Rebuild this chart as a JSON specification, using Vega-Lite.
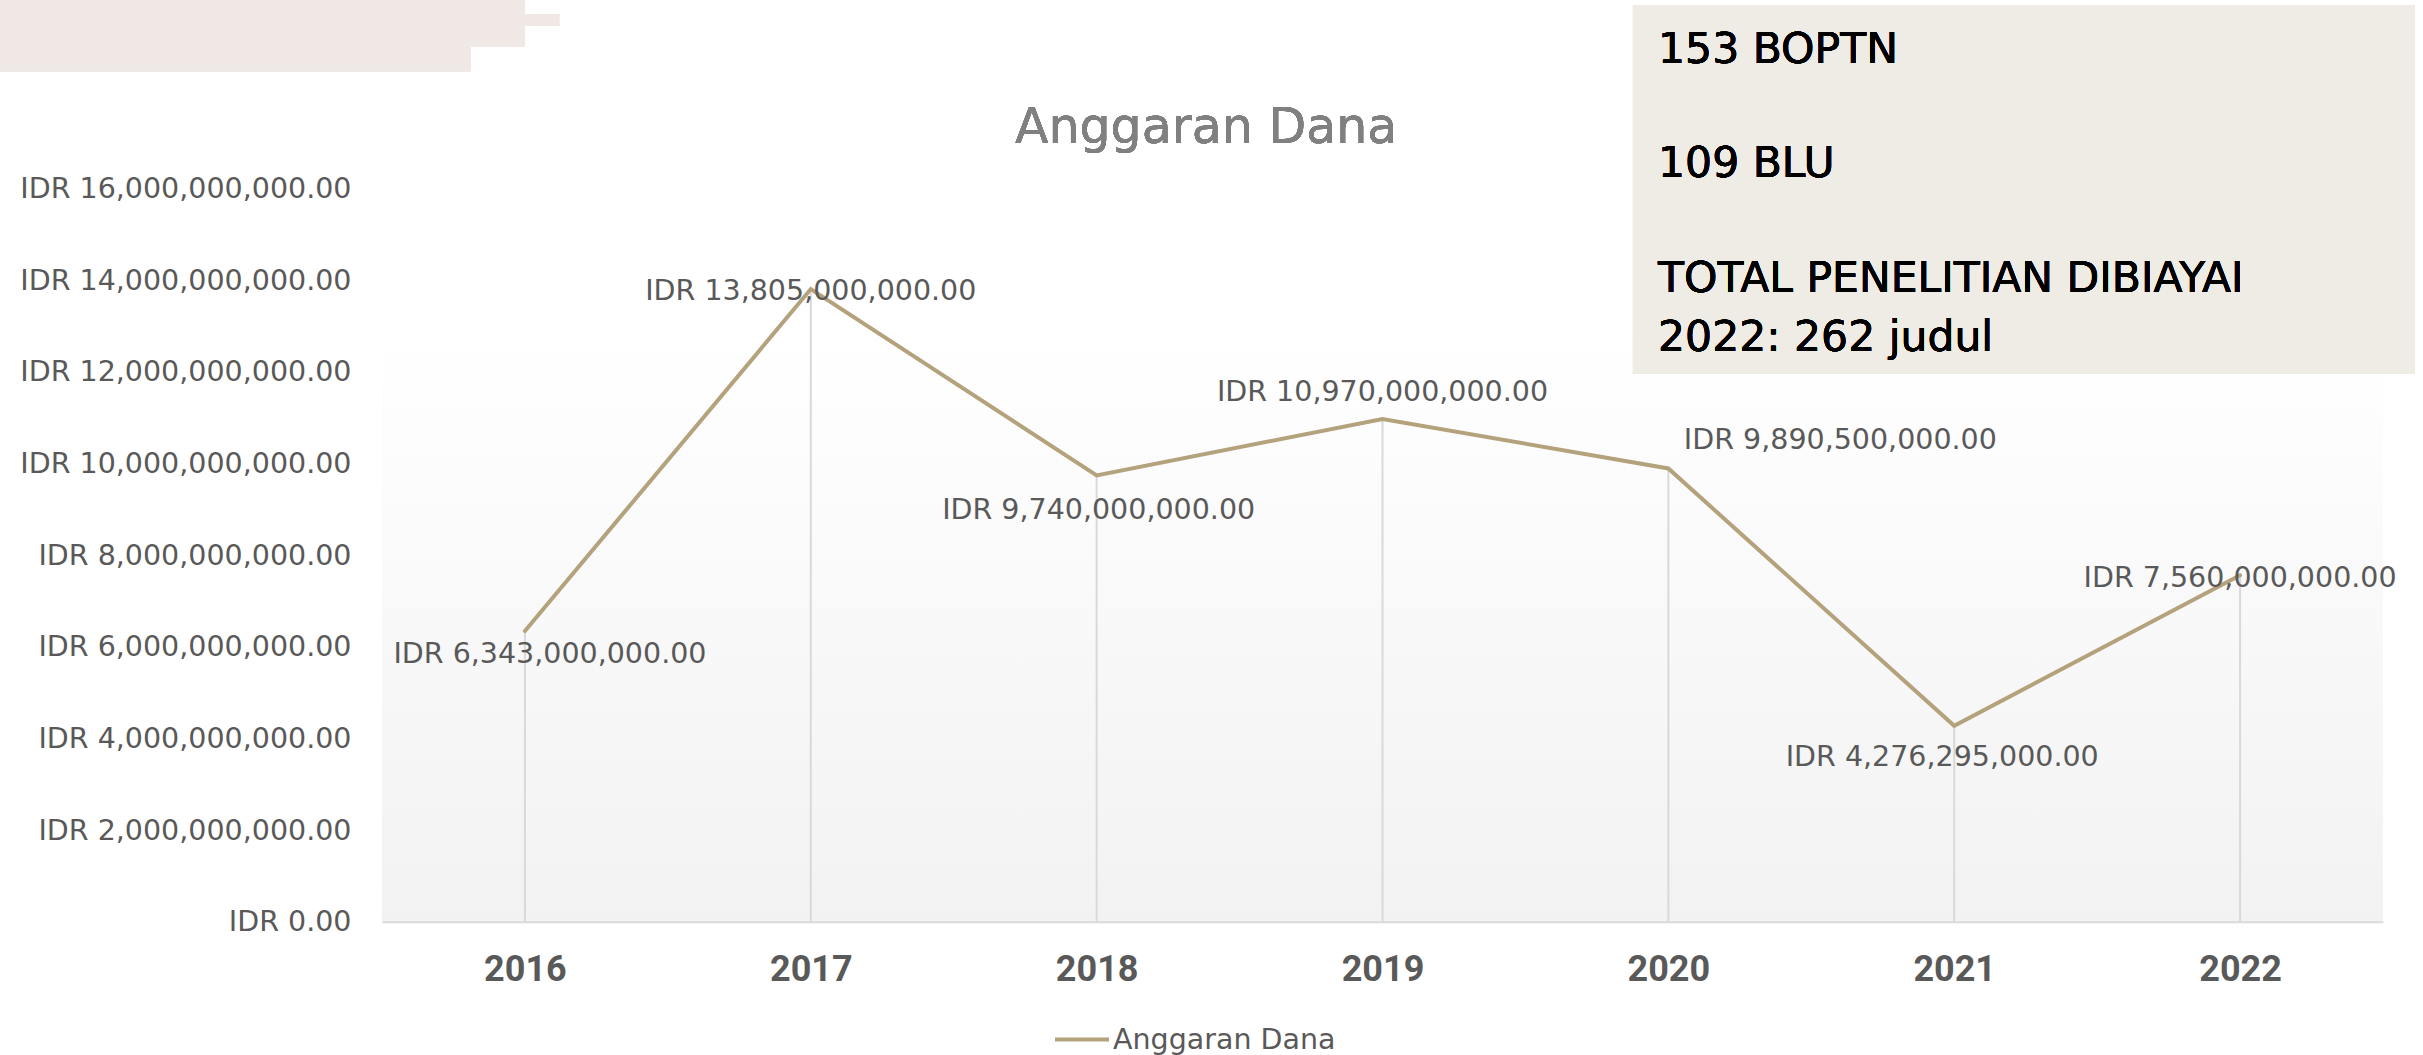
{
  "$schema": "https://vega.github.io/schema/vega-lite/v6.json",
  "width": 2001,
  "height": 733.2,
  "autosize": {"type": "none"},
  "padding": {"left": 382, "top": 188.5, "right": 40, "bottom": 133.3},
  "background": "#ffffff",
  "config": {
    "locale": {
      "number": {"decimal": ".", "thousands": ",", "grouping": [3], "currency": ["IDR ", ""]}
    },
    "view": {
      "stroke": null,
      "fill": {
        "gradient": "linear",
        "x1": 0, "y1": 0, "x2": 0, "y2": 1,
        "stops": [
          {"offset": 0, "color": "#ffffff"},
          {"offset": 0.2, "color": "#ffffff"},
          {"offset": 1, "color": "#f2f2f2"}
        ]
      }
    },
    "text": {"font": "DejaVu Sans", "fontSize": 28.5, "color": "#595959"}
  },
  "data": {
    "values": [
      {"year": 2016, "value": 6343000000},
      {"year": 2017, "value": 13805000000},
      {"year": 2018, "value": 9740000000},
      {"year": 2019, "value": 10970000000},
      {"year": 2020, "value": 9890500000},
      {"year": 2021, "value": 4276295000},
      {"year": 2022, "value": 7560000000}
    ]
  },
  "layer": [
    {
      "mark": {"type": "rect", "color": "#f0e8e5"},
      "encoding": {
        "x": {"datum": 2014.16, "type": "quantitative"},
        "x2": {"datum": 2015.81},
        "y": {"datum": 20113000000, "type": "quantitative"},
        "y2": {"datum": 18560000000}
      }
    },
    {
      "mark": {"type": "rect", "color": "#f0e8e5"},
      "encoding": {
        "x": {"datum": 2014.16, "type": "quantitative"},
        "x2": {"datum": 2016.0},
        "y": {"datum": 20113000000, "type": "quantitative"},
        "y2": {"datum": 19100000000}
      }
    },
    {
      "mark": {"type": "rect", "color": "#f0e8e5"},
      "encoding": {
        "x": {"datum": 2014.16, "type": "quantitative"},
        "x2": {"datum": 2016.12},
        "y": {"datum": 19800000000, "type": "quantitative"},
        "y2": {"datum": 19550000000}
      }
    },
    {
      "mark": {
        "type": "text",
        "align": "center",
        "baseline": "alphabetic",
        "font": "DejaVu Sans",
        "fontSize": 49,
        "color": "#808080",
        "text": "Anggaran Dana"
      },
      "encoding": {
        "x": {"datum": 2018.383, "type": "quantitative"},
        "y": {"datum": 16993000000, "type": "quantitative"}
      }
    },
    {
      "mark": {"type": "rule", "color": "#d9d9d9", "strokeWidth": 2},
      "encoding": {
        "x": {
          "field": "year", "type": "quantitative",
          "scale": {"domain": [2015.5, 2022.5], "nice": false, "zero": false},
          "axis": {
            "values": [2016, 2017, 2018, 2019, 2020, 2021, 2022],
            "format": "d",
            "title": null,
            "grid": false,
            "ticks": false,
            "domainColor": "#d9d9d9",
            "domainWidth": 2,
            "labelFont": "Roboto",
            "labelFontWeight": "bold",
            "labelFontSize": 36,
            "labelColor": "#595959",
            "labelPadding": 31
          }
        },
        "y": {
          "field": "value", "type": "quantitative",
          "scale": {"domain": [0, 16000000000], "nice": false},
          "axis": {
            "values": [0, 2000000000, 4000000000, 6000000000, 8000000000, 10000000000, 12000000000, 14000000000, 16000000000],
            "format": "$,.2f",
            "title": null,
            "grid": false,
            "ticks": false,
            "domain": false,
            "labelFont": "DejaVu Sans",
            "labelFontSize": 28.5,
            "labelColor": "#595959",
            "labelPadding": 31,
            "labelLimit": 0
          }
        },
        "y2": {"datum": 0}
      }
    },
    {
      "mark": {"type": "line", "strokeWidth": 4, "strokeCap": "round"},
      "encoding": {
        "x": {"field": "year", "type": "quantitative"},
        "y": {"field": "value", "type": "quantitative"},
        "color": {
          "datum": "Anggaran Dana",
          "type": "nominal",
          "scale": {"range": ["#b4a27c"]},
          "legend": {
            "orient": "none",
            "legendX": 671,
            "legendY": 822,
            "title": null,
            "padding": 0,
            "symbolType": "stroke",
            "symbolSize": 2916,
            "symbolStrokeWidth": 4,
            "labelFont": "DejaVu Sans",
            "labelFontSize": 28.5,
            "labelColor": "#595959",
            "labelOffset": 2,
            "labelLimit": 0
          }
        }
      }
    },
    {
      "transform": [{"filter": "datum.year == 2016"}],
      "mark": {"type": "text", "dx": 25, "dy": 23, "baseline": "middle"},
      "encoding": {
        "x": {"field": "year", "type": "quantitative"},
        "y": {"field": "value", "type": "quantitative"},
        "text": {"field": "value", "type": "quantitative", "format": "$,.2f"}
      }
    },
    {
      "transform": [{"filter": "datum.year == 2017"}],
      "mark": {"type": "text", "dx": 0, "dy": 2, "baseline": "middle"},
      "encoding": {
        "x": {"field": "year", "type": "quantitative"},
        "y": {"field": "value", "type": "quantitative"},
        "text": {"field": "value", "type": "quantitative", "format": "$,.2f"}
      }
    },
    {
      "transform": [{"filter": "datum.year == 2018"}],
      "mark": {"type": "text", "dx": 2, "dy": 35, "baseline": "middle"},
      "encoding": {
        "x": {"field": "year", "type": "quantitative"},
        "y": {"field": "value", "type": "quantitative"},
        "text": {"field": "value", "type": "quantitative", "format": "$,.2f"}
      }
    },
    {
      "transform": [{"filter": "datum.year == 2019"}],
      "mark": {"type": "text", "dx": 0, "dy": -26.5, "baseline": "middle"},
      "encoding": {
        "x": {"field": "year", "type": "quantitative"},
        "y": {"field": "value", "type": "quantitative"},
        "text": {"field": "value", "type": "quantitative", "format": "$,.2f"}
      }
    },
    {
      "transform": [{"filter": "datum.year == 2020"}],
      "mark": {"type": "text", "dx": 172, "dy": -28, "baseline": "middle"},
      "encoding": {
        "x": {"field": "year", "type": "quantitative"},
        "y": {"field": "value", "type": "quantitative"},
        "text": {"field": "value", "type": "quantitative", "format": "$,.2f"}
      }
    },
    {
      "transform": [{"filter": "datum.year == 2021"}],
      "mark": {"type": "text", "dx": -12, "dy": 31, "baseline": "middle"},
      "encoding": {
        "x": {"field": "year", "type": "quantitative"},
        "y": {"field": "value", "type": "quantitative"},
        "text": {"field": "value", "type": "quantitative", "format": "$,.2f"}
      }
    },
    {
      "transform": [{"filter": "datum.year == 2022"}],
      "mark": {"type": "text", "dx": 0, "dy": 3, "baseline": "middle"},
      "encoding": {
        "x": {"field": "year", "type": "quantitative"},
        "y": {"field": "value", "type": "quantitative"},
        "text": {"field": "value", "type": "quantitative", "format": "$,.2f"}
      }
    },
    {
      "mark": {"type": "rect", "color": "#efebe5"},
      "encoding": {
        "x": {"datum": 2019.876, "type": "quantitative"},
        "x2": {"datum": 2022.612},
        "y": {"datum": 20004000000, "type": "quantitative"},
        "y2": {"datum": 11952000000}
      }
    },
    {
      "mark": {
        "type": "text",
        "align": "left",
        "baseline": "alphabetic",
        "font": "DejaVu Sans",
        "fontSize": 42.5,
        "color": "#000000",
        "lineHeight": 114.5,
        "text": ["153 BOPTN", "109 BLU", "TOTAL PENELITIAN DIBIAYAI"]
      },
      "encoding": {
        "x": {"datum": 2019.964, "type": "quantitative"},
        "y": {"datum": 18739000000, "type": "quantitative"}
      }
    },
    {
      "mark": {
        "type": "text",
        "align": "left",
        "baseline": "alphabetic",
        "font": "DejaVu Sans",
        "fontSize": 42.5,
        "color": "#000000",
        "text": "2022: 262 judul"
      },
      "encoding": {
        "x": {"datum": 2019.964, "type": "quantitative"},
        "y": {"datum": 12454000000, "type": "quantitative"}
      }
    }
  ]
}
